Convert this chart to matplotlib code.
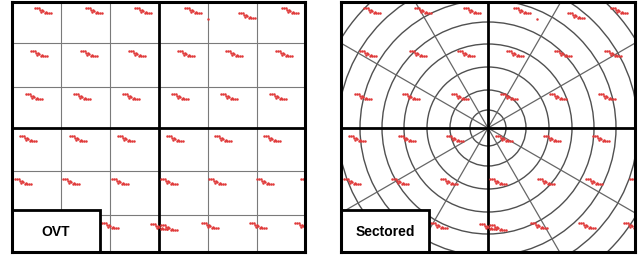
import numpy as np
import matplotlib
matplotlib.use('Agg')
import matplotlib.pyplot as plt
from matplotlib.patches import Rectangle, Circle

# cluster centres (panel pixel units, origin top-left), same in both panels
clust_x = [32, 83, 132, 182, 236, 279,
           28, 78, 126, 175, 223, 273,
           23, 71, 120, 169, 218, 267,
           17, 67, 115, 164, 212, 261,
           12, 60, 109, 158, 206, 254, 298,
           50, 99, 148, 158, 199, 247, 292]
clust_y = [9, 9, 9, 9, 14, 9,
           52, 52, 52, 52, 52, 52,
           95, 95, 95, 95, 95, 95,
           137, 137, 137, 137, 137, 137,
           180, 180, 180, 180, 180, 180, 180,
           224, 224, 225, 226, 224, 224, 224]
stray_x = [196]
stray_y = [17]

# dot layout inside one cluster
pat_dx = [-9, -7, -5, -4, -2, -3, -1, 1, 3, 5, 7, 2]
pat_dy = [-3, -3, -3, -1, -1, 1, 0, 2, 2, 2, 2, 1]

# tiling of each panel
col_edges = [0, 49, 98, 147, 196, 245, 293]
row_edges = [0, 41, 85, 126, 169, 213, 250]
radii = [18, 38, 61, 84, 106, 128, 150, 172, 194]
spoke_angles = [30, 60, 120, 150, 210, 240, 300, 330]
centre = (147, 126)

labels = ['OVT', 'Sectored']

W, H = 638, 256
fig = plt.figure(figsize=(W / 100, H / 100), dpi=100)
fig.patch.set_facecolor('white')

panels = [(12, 2, 293, 250), (341, 2, 294, 250)]
red = '#e03a3a'
thin = '#7a7a7a'

for k, (px, py, pw, ph) in enumerate(panels):
    ax = fig.add_axes([px / W, 1 - (py + ph) / H, pw / W, ph / H])
    ax.set_xlim(0, pw)
    ax.set_ylim(ph, 0)
    ax.set_xticks([])
    ax.set_yticks([])
    for s in ax.spines.values():
        s.set_linewidth(2.2)
        s.set_color('black')
        s.set_zorder(6)

    if k == 0:
        for x in col_edges[1:-1]:
            thick = (x == centre[0])
            ax.axvline(x, color='black' if thick else thin,
                       lw=2.0 if thick else 0.8, zorder=2 if thick else 1)
        for y in row_edges[1:-1]:
            thick = (y == centre[1])
            ax.axhline(y, color='black' if thick else thin,
                       lw=2.0 if thick else 0.8, zorder=2 if thick else 1)
    else:
        cx, cy = centre
        for r in radii:
            ax.add_patch(Circle((cx, cy), r, fill=False, ec='#505050', lw=1.0, zorder=1))
        for a in spoke_angles:
            t = np.deg2rad(a)
            ax.plot([cx, cx + 400 * np.cos(t)], [cy, cy - 400 * np.sin(t)],
                    color='#666666', lw=0.9, zorder=1)
        ax.axvline(cx, color='black', lw=2.0, zorder=2)
        ax.axhline(cy, color='black', lw=2.0, zorder=2)

    # red dot clusters
    xs, ys = [], []
    for cx_, cy_ in zip(clust_x, clust_y):
        for dx, dy in zip(pat_dx, pat_dy):
            xs.append(cx_ + dx)
            ys.append(cy_ + dy)
    xs += stray_x
    ys += stray_y
    ax.scatter(xs, ys, s=3.2, color=red, lw=0, zorder=3)

    # label box
    ax.add_patch(Rectangle((0, 208), 88, 44, fc='white', ec='black', lw=2.0, zorder=5))
    ax.text(44, 230, labels[k], ha='center', va='center', fontsize=10,
            fontweight='bold', family='Liberation Sans', zorder=7)

fig.savefig('out.png', dpi=100)
